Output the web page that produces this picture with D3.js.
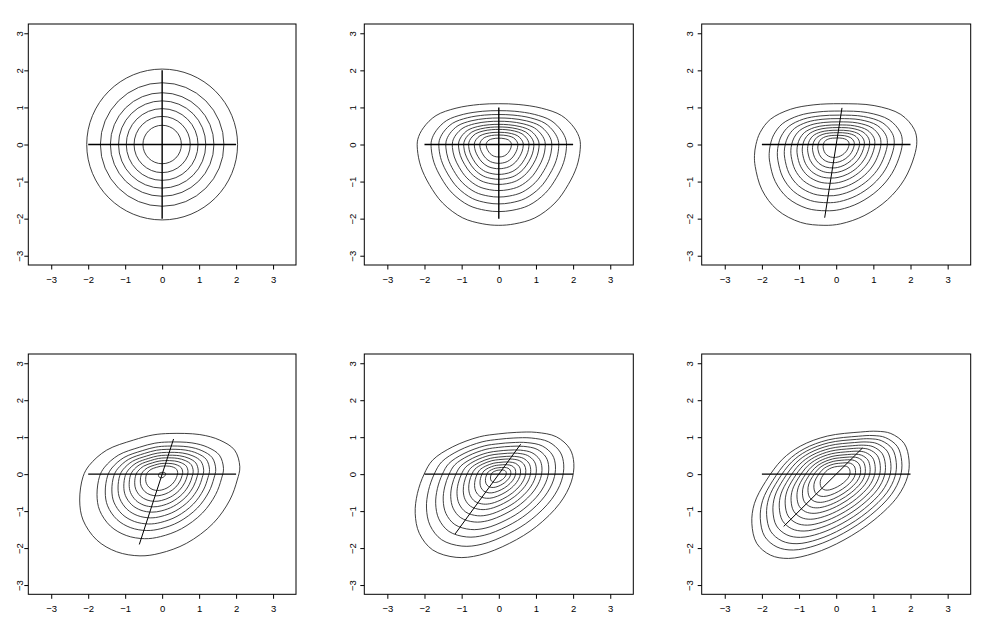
<!DOCTYPE html>
<html>
<head>
<meta charset="utf-8">
<script src="https://cdn.jsdelivr.net/npm/d3@7"></script>
<style>
  body { margin: 0; background: #fff; }
  svg { display: block; font-family: "Liberation Sans", Arial, sans-serif; }
</style>
</head>
<body>
<svg width="991" height="639"></svg>
<script>
var xTicks = [-3, -2, -1, 0, 1, 2, 3];
var yTicks = [-3, -2, -1, 0, 1, 2, 3];

// panel 1: circular contours (radius of each level)
var circleRadii = [0.52, 0.76, 0.97, 1.18, 1.40, 1.67, 2.04];

// outer contour of panels 2-6
var outline2 = [[0, 1.10], [-0.52, 1.08], [-1.15, 0.98], [-1.69, 0.78], [-2.03, 0.45], [-2.18, 0.14],
  [-2.19, -0.14], [-2.10, -0.59], [-1.87, -1.08], [-1.51, -1.58], [-0.97, -1.98], [-0.43, -2.14],
  [0, -2.18], [0.43, -2.14], [0.97, -1.98], [1.51, -1.58], [1.87, -1.08], [2.10, -0.59],
  [2.19, -0.14], [2.18, 0.14], [2.03, 0.45], [1.69, 0.78], [1.15, 0.98], [0.52, 1.08]];
var outline3 = [[0.12, 1.10], [-0.60, 1.07], [-1.23, 0.95], [-1.77, 0.68], [-2.05, 0.32], [-2.16, 0],
  [-2.20, -0.30], [-2.18, -0.59], [-2.0, -1.22], [-1.59, -1.76], [-0.96, -2.10], [-0.33, -2.18],
  [0.12, -2.14], [0.75, -1.92], [1.38, -1.49], [1.83, -0.95], [2.10, -0.32], [2.17, 0.09],
  [2.10, 0.41], [1.74, 0.81], [1.02, 1.05]];
var outline4 = [[0.21, 1.10], [-0.25, 1.06], [-0.78, 0.92], [-1.50, 0.65], [-1.97, 0.24], [-2.14, -0.07],
  [-2.23, -0.70], [-2.14, -1.24], [-1.77, -1.78], [-1.23, -2.10], [-0.60, -2.21], [-0.06, -2.14],
  [0.66, -1.87], [1.38, -1.33], [1.83, -0.70], [2.03, -0.16], [2.10, 0.20], [1.96, 0.65],
  [1.56, 0.92], [1.02, 1.07]];
var outline5 = [[0.47, 1.13], [0, 1.09], [-0.52, 1.01], [-1.24, 0.74], [-1.78, 0.38], [-2.01, 0],
  [-2.19, -0.52], [-2.25, -1.06], [-2.14, -1.60], [-1.78, -2.05], [-1.15, -2.25], [-0.52, -2.19],
  [0.29, -1.87], [1.01, -1.42], [1.64, -0.79], [1.95, -0.21], [2.02, 0.29], [1.91, 0.69],
  [1.55, 1.01], [1.01, 1.13]];
var outline6 = [[0.66, 1.14], [-0.24, 1.03], [-0.96, 0.76], [-1.45, 0.40], [-1.90, -0.20], [-2.20, -0.79],
  [-2.27, -1.33], [-2.14, -1.87], [-1.77, -2.19], [-1.28, -2.28], [-0.60, -2.14], [0.21, -1.78],
  [1.02, -1.24], [1.65, -0.61], [1.92, -0.07], [1.96, 0.38], [1.83, 0.83], [1.47, 1.10], [1.10, 1.16]];

// size of each inner contour relative to the outer one
var levels2 = [1, 0.83, 0.735, 0.65, 0.57, 0.494, 0.43, 0.37, 0.30, 0.233, 0.155];
var levels3 = [1, 0.82, 0.72, 0.635, 0.555, 0.48, 0.415, 0.35, 0.29, 0.225, 0.16];
var levels4 = [1, 0.79, 0.69, 0.61, 0.535, 0.465, 0.40, 0.333, 0.265, 0.20, 0.045];
var levels5 = [1, 0.865, 0.755, 0.665, 0.575, 0.50, 0.425, 0.36, 0.29, 0.225, 0.16, 0.10];
var levels6 = [1, 0.90, 0.825, 0.75, 0.675, 0.605, 0.535, 0.465, 0.40, 0.335, 0.265, 0.19];

// axis segments [x1, y1, x2, y2]
var segments1 = [[-2, 0, 2, 0], [0, -2, 0, 2]];
var segments2 = [[-2, 0, 2, 0], [0, -2, 0, 1]];
var segments3 = [[-2, 0, 2, 0], [-0.31, -1.975, 0.156, 0.988]];
var segments4 = [[-2, 0, 2, 0], [-0.618, -1.902, 0.309, 0.951]];
var segments5 = [[-2, 0, 2, 0], [-1.176, -1.618, 0.588, 0.809]];
var segments6 = [[-2, 0, 2, 0], [-1.414, -1.414, 0.707, 0.707]];

var panels = [
  { circles: circleRadii, segments: segments1 },
  { outline: outline2, levels: levels2, segments: segments2 },
  { outline: outline3, levels: levels3, segments: segments3 },
  { outline: outline4, levels: levels4, segments: segments4 },
  { outline: outline5, levels: levels5, segments: segments5 },
  { outline: outline6, levels: levels6, segments: segments6 }
];

var colLeft = [28.3, 364.3, 701.7], colRight = [296, 633.3, 970.7];
var rowTop = [24, 354], rowBottom = [265, 594.3];
var yLabelGap = [8.3, 11.6, 11.7], xLabelGap = 14.3;

var svg = d3.select("svg");
var fmt = d3.format("d");

panels.forEach(function (p, i) {
  var col = i % 3, row = Math.floor(i / 3);
  var x = d3.scaleLinear().domain([-3.62, 3.62]).range([colLeft[col], colRight[col]]);
  var y = d3.scaleLinear().domain([-3.25, 3.25]).range([rowBottom[row], rowTop[row]]);
  var g = svg.append("g");

  var clipId = "clip" + i;
  g.append("clipPath").attr("id", clipId).append("rect")
    .attr("x", colLeft[col]).attr("y", rowTop[row])
    .attr("width", colRight[col] - colLeft[col]).attr("height", rowBottom[row] - rowTop[row]);
  var plot = g.append("g").attr("clip-path", "url(#" + clipId + ")");

  if (p.circles) {
    plot.selectAll("circle").data(p.circles).enter().append("circle")
      .attr("cx", x(0)).attr("cy", y(0))
      .attr("r", function (d) { return x(d) - x(0); })
      .attr("fill", "none").attr("stroke", "#2a2a2a").attr("stroke-width", 0.9);
  } else {
    plot.selectAll("path.contour").data(p.levels).enter().append("path")
      .attr("class", "contour")
      .attr("d", function (s) {
        return d3.line()
          .x(function (d) { return x(d[0] * s); })
          .y(function (d) { return y(d[1] * s); })
          .curve(d3.curveCatmullRomClosed.alpha(0.5))(p.outline);
      })
      .attr("fill", "none").attr("stroke", "#2a2a2a").attr("stroke-width", 0.9);
  }

  plot.selectAll("line.seg").data(p.segments).enter().append("line")
    .attr("class", "seg")
    .attr("x1", function (d) { return x(d[0]); })
    .attr("y1", function (d) { return y(d[1]); })
    .attr("x2", function (d) { return x(d[2]); })
    .attr("y2", function (d) { return y(d[3]); })
    .attr("stroke", "#000").attr("stroke-width", function (d, j) { return j === 0 || i < 2 ? 1.4 : 1; });

  // box
  g.append("rect")
    .attr("x", colLeft[col]).attr("y", rowTop[row])
    .attr("width", colRight[col] - colLeft[col]).attr("height", rowBottom[row] - rowTop[row])
    .attr("fill", "none").attr("stroke", "#000").attr("stroke-width", 1);

  var xa = g.append("g")
    .attr("transform", "translate(0," + rowBottom[row] + ")")
    .call(d3.axisBottom(x).tickValues(xTicks).tickFormat(fmt).tickSize(4.5));
  xa.select(".domain").remove();
  xa.selectAll("text").attr("y", xLabelGap).attr("dy", "0.35em")
    .attr("font-size", 9.5).attr("font-family", "Liberation Sans, Arial, sans-serif").attr("fill", "#000");

  var ya = g.append("g")
    .attr("transform", "translate(" + colLeft[col] + ",0)")
    .call(d3.axisLeft(y).tickValues(yTicks).tickFormat(fmt).tickSize(4));
  ya.select(".domain").remove();
  ya.selectAll("text")
    .attr("x", null)
    .attr("transform", "translate(" + (-yLabelGap[col]) + ",0) rotate(-90)")
    .attr("text-anchor", "middle").attr("dy", "0.35em")
    .attr("font-size", 9.5).attr("font-family", "Liberation Sans, Arial, sans-serif").attr("fill", "#000");
});
</script>
</body>
</html>
